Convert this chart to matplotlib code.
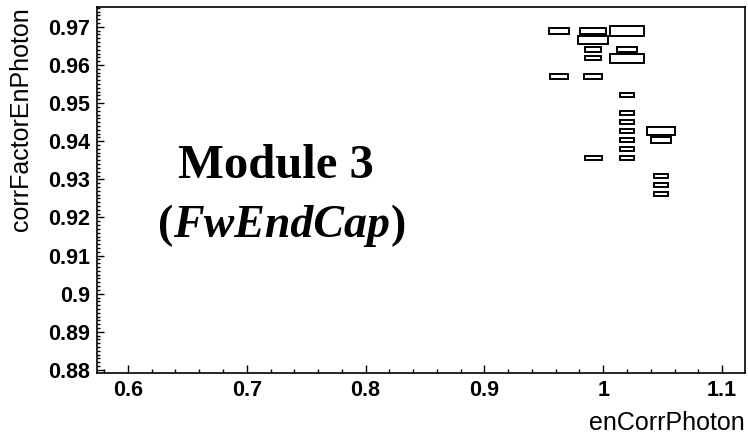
import matplotlib
matplotlib.use("Agg")
import matplotlib.pyplot as plt
from matplotlib.patches import Rectangle
from matplotlib.ticker import MultipleLocator, FuncFormatter

# 2D histogram (box style): bin centres and relative bin contents
bin_w = 0.6 / 21      # x bin width
bin_h = 0.00238       # y bin height

x_center = [0.96286, 0.99143, 1.02000,
            0.99143,
            0.99143, 1.02000,
            0.99143, 1.02000,
            0.96286, 0.99143,
            1.02000,
            1.02000, 1.02000,
            1.02000, 1.04857,
            1.02000, 1.04857,
            1.02000,
            1.02000, 0.99143,
            1.04857, 1.04857, 1.04857]
y_center = [0.9689, 0.9689, 0.9689,
            0.9665,
            0.9641, 0.9641,
            0.9618, 0.9618,
            0.9570, 0.9570,
            0.9522,
            0.9475, 0.9451,
            0.9427, 0.9427,
            0.9403, 0.9403,
            0.9380,
            0.9356, 0.9356,
            0.9308, 0.9284, 0.9261]
content = [0.59, 0.74, 1.00,
           0.86,
           0.48, 0.60,
           0.48, 1.00,
           0.51, 0.51,
           0.43,
           0.43, 0.43,
           0.43, 0.85,
           0.43, 0.59,
           0.43,
           0.43, 0.50,
           0.43, 0.43, 0.43]

x_ticks = [0.6, 0.7, 0.8, 0.9, 1.0, 1.1]
y_ticks = [0.88, 0.89, 0.90, 0.91, 0.92, 0.93, 0.94, 0.95, 0.96, 0.97]

fig = plt.figure(figsize=(7.48, 4.33), dpi=100)
ax = fig.add_axes([0.1297, 0.1386, 0.9963 - 0.1297, 0.9838 - 0.1386])

cmax = max(content)
for xc, yc, c in zip(x_center, y_center, content):
    w = bin_w * c / cmax
    h = bin_h * c / cmax
    ax.add_patch(Rectangle((xc - w / 2, yc - h / 2), w, h, fill=False,
                           edgecolor="black", linewidth=1.4))

ax.set_xlim(0.574, 1.1195)
ax.set_ylim(0.8792, 0.9752)

ax.set_xticks(x_ticks)
ax.set_yticks(y_ticks)
ax.xaxis.set_minor_locator(MultipleLocator(0.02))
ax.yaxis.set_minor_locator(MultipleLocator(0.001))
fmt = FuncFormatter(lambda v, p: f"{round(v, 3):g}")
ax.xaxis.set_major_formatter(fmt)
ax.yaxis.set_major_formatter(fmt)

ax.tick_params(axis="both", which="both", direction="in", top=False, right=False, width=1.0)
ax.tick_params(axis="x", which="major", length=6, pad=5)
ax.tick_params(axis="x", which="minor", length=3)
ax.tick_params(axis="y", which="major", length=5, pad=5)
ax.tick_params(axis="y", which="minor", length=2.5)
for lab in ax.get_xticklabels() + ax.get_yticklabels():
    lab.set_fontfamily("Liberation Sans")
    lab.set_fontweight("bold")
    lab.set_fontsize(15.5)
for sp in ax.spines.values():
    sp.set_linewidth(1.2)

fig.text(0.995, 0.008, "enCorrPhoton", ha="right", va="baseline",
         fontsize=18, family="Liberation Sans")
fig.text(0.012, 0.983, "corrFactorEnPhoton", ha="left", va="top", rotation=90,
         fontsize=18, family="Liberation Sans")

# module label
ax.text(0.125, 0.533, "Module 3", transform=ax.transAxes, ha="left", va="baseline",
        fontsize=35, family="Liberation Serif", fontweight="bold")
t1 = ax.text(0.094, 0.372, "(", transform=ax.transAxes, ha="left", va="baseline",
             fontsize=33, family="Liberation Serif", fontweight="bold")
t2 = ax.annotate("FwEndCap", xy=(1, 0), xycoords=t1, ha="left", va="bottom",
                 fontsize=33, family="Liberation Serif", fontweight="bold", style="italic")
ax.annotate(")", xy=(1, 0), xycoords=t2, ha="left", va="bottom",
            fontsize=33, family="Liberation Serif", fontweight="bold")

fig.savefig("out.png", dpi=100)
